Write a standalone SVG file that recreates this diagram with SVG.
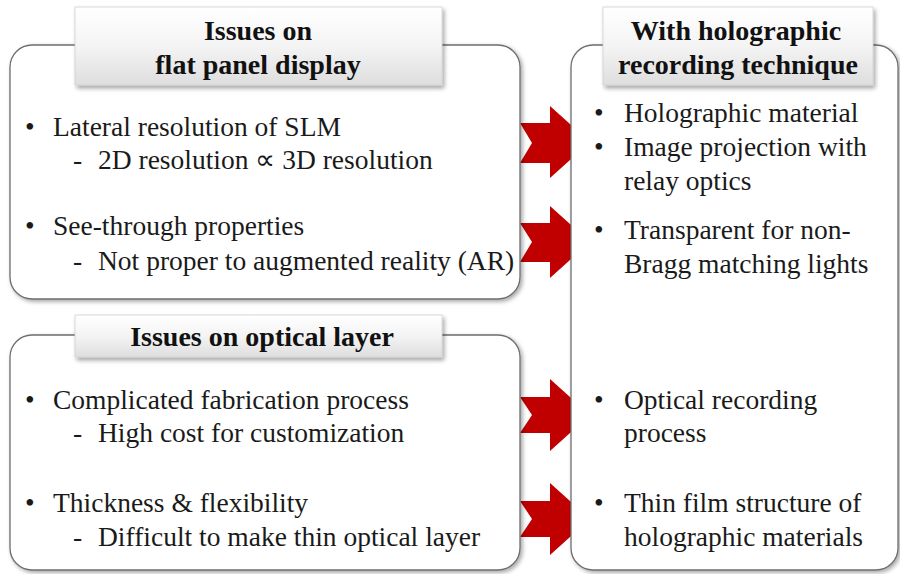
<svg xmlns="http://www.w3.org/2000/svg" width="900" height="574" viewBox="0 0 900 574">
  <defs>
    <linearGradient id="tg" x1="0" y1="0" x2="0" y2="1">
      <stop offset="0" stop-color="#ffffff"/>
      <stop offset="0.5" stop-color="#f4f4f4"/>
      <stop offset="1" stop-color="#dedede"/>
    </linearGradient>
    <filter id="sh" x="-10%" y="-10%" width="120%" height="120%">
      <feDropShadow dx="2" dy="2" stdDeviation="2" flood-color="#000" flood-opacity="0.35"/>
    </filter>
    <filter id="sh2" x="-10%" y="-20%" width="120%" height="150%">
      <feDropShadow dx="2" dy="3" stdDeviation="2" flood-color="#000" flood-opacity="0.35"/>
    </filter>
  </defs>
  <style>
    .box{fill:#fff;stroke:#6e6e6e;stroke-width:1.3;filter:url(#sh)}
    .title{fill:url(#tg);stroke:#d0d0d0;stroke-width:0.8;filter:url(#sh2)}
    .tt{font-family:"Liberation Serif","Times New Roman",serif;font-weight:bold;font-size:28px;fill:#111;text-anchor:middle}
    .t{font-family:"Liberation Serif","Times New Roman",serif;font-size:27.5px;fill:#1a1a1a}
    .arr{fill:#c00000}
  </style>
  <rect width="900" height="574" fill="#fff"/>
  <g id="connectors">
    <polygon class="arr" points="520,123 550,123 550,106 590,142 550,178 550,163 520,163 532,143"/>
    <polygon class="arr" points="520,223 550,223 550,206 590,242 550,278 550,262 520,262 532,242"/>
    <polygon class="arr" points="520,397 550,397 550,379 590,415 550,451 550,433 520,433 532,415"/>
    <polygon class="arr" points="520,501 550,501 550,483 590,519 550,555 550,537 520,537 532,519"/>
  </g>
  <g id="flat-panel">
    <rect class="box" x="10" y="45" width="510" height="254" rx="22"/>
    <rect class="title" x="75" y="7" width="367" height="78"/>
    <text class="tt" x="258" y="40">Issues on</text>
    <text class="tt" x="258" y="74">flat panel display</text>
    <text class="t" x="25" y="136">•</text><text class="t" x="53" y="136">Lateral resolution of SLM</text>
    <text class="t" x="73" y="169">-</text><text class="t" x="98" y="169">2D resolution ∝ 3D resolution</text>
    <text class="t" x="25" y="235">•</text><text class="t" x="53" y="235">See-through properties</text>
    <text class="t" x="73" y="270">-</text><text class="t" x="98" y="270">Not proper to augmented reality (AR)</text>
  </g>
  <g id="optical-layer">
    <rect class="box" x="10" y="335" width="510" height="235" rx="22"/>
    <rect class="title" x="75" y="315" width="367" height="42"/>
    <text class="tt" x="262" y="346">Issues on optical layer</text>
    <text class="t" x="25" y="409">•</text><text class="t" x="53" y="409">Complicated fabrication process</text>
    <text class="t" x="73" y="442">-</text><text class="t" x="98" y="442">High cost for customization</text>
    <text class="t" x="25" y="512">•</text><text class="t" x="53" y="512">Thickness &amp; flexibility</text>
    <text class="t" x="73" y="546">-</text><text class="t" x="98" y="546">Difficult to make thin optical layer</text>
  </g>
  <g id="holographic">
    <rect class="box" x="571" y="45" width="327" height="525" rx="22"/>
    <rect class="title" x="603" y="7" width="270" height="78"/>
    <text class="tt" x="736" y="40">With holographic</text>
    <text class="tt" x="738" y="74">recording technique</text>
    <text class="t" x="594" y="122">•</text><text class="t" x="624" y="122">Holographic material</text>
    <text class="t" x="594" y="156">•</text><text class="t" x="624" y="156">Image projection with</text>
    <text class="t" x="624" y="190">relay optics</text>
    <text class="t" x="594" y="239">•</text><text class="t" x="624" y="239">Transparent for non-</text>
    <text class="t" x="624" y="273">Bragg matching lights</text>
    <text class="t" x="594" y="409">•</text><text class="t" x="624" y="409">Optical recording</text>
    <text class="t" x="624" y="442">process</text>
    <text class="t" x="594" y="512">•</text><text class="t" x="624" y="512">Thin film structure of</text>
    <text class="t" x="624" y="546">holographic materials</text>
  </g>
</svg>
